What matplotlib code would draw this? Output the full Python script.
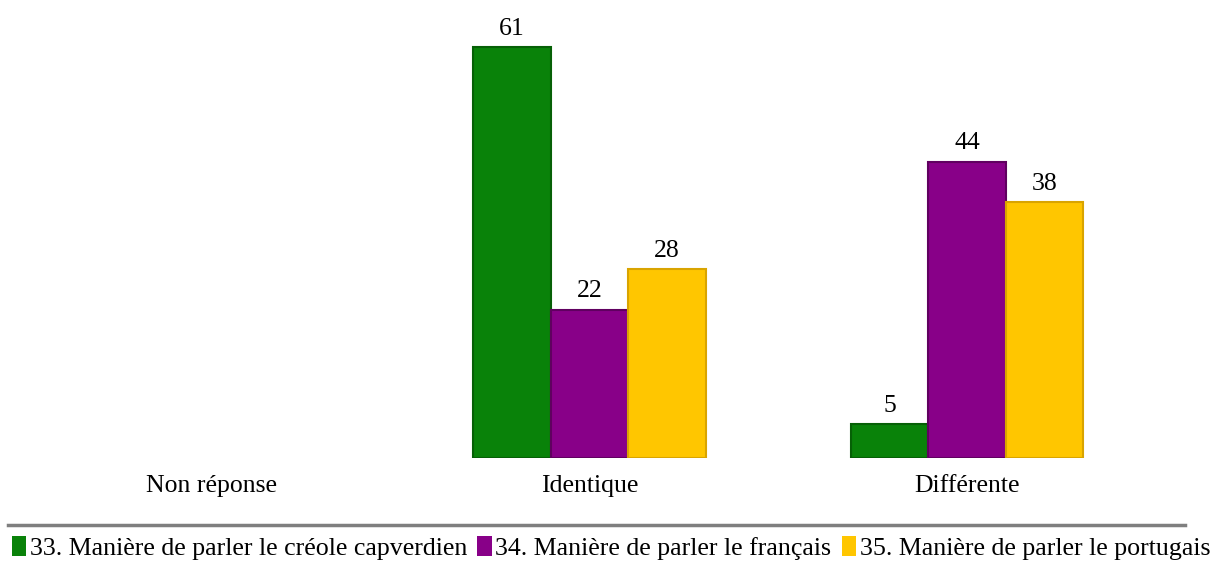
import matplotlib
matplotlib.use("Agg")
import matplotlib.pyplot as plt
from matplotlib.lines import Line2D
from matplotlib.patches import Patch
import numpy as np

categories = ["Non réponse", "Identique", "Différente"]
series_names = [
    "33. Manière de parler le créole capverdien",
    "34. Manière de parler le français",
    "35. Manière de parler le portugais",
]
creole = [0, 61, 5]
francais = [0, 22, 44]
portugais = [0, 28, 38]
colors = ["#098209", "#880088", "#FFC600"]
edge_colors = ["#066006", "#600060", "#D9A400"]

plt.rcParams["font.family"] = ["Liberation Serif", "DejaVu Serif"]

fig = plt.figure(figsize=(12.16, 5.65), dpi=100)
ax = fig.add_axes([23 / 1216, 107 / 565, 1133 / 1216, 438 / 565])

x = np.arange(len(categories))
width = 0.205
offsets = [-width, 0, width]
all_series = [creole, francais, portugais]
for vals, off, c, ec, name in zip(all_series, offsets, colors, edge_colors, series_names):
    lws = [1.5 if v > 0 else 0 for v in vals]
    bars = ax.bar(x + off, vals, width, color=c, edgecolor=ec, linewidth=lws, label=name)
    for b, v in zip(bars, vals):
        if v > 0:
            ax.text(b.get_x() + b.get_width() / 2, v + 1.1, str(v), ha="center", va="bottom",
                    fontsize=18.5)

ax.set_xlim(-0.5, 2.5)
ax.set_ylim(0, 65)
ax.set_xticks(x)
ax.set_xticklabels(categories, fontsize=18.5)
ax.tick_params(axis="x", length=0, pad=12)
ax.set_yticks([])
for s in ax.spines.values():
    s.set_visible(False)

fig.add_artist(Line2D([8 / 1216, 1185 / 1216], [40 / 565, 40 / 565], color="#7f7f7f", linewidth=2.5))

handles = [Patch(facecolor=c, edgecolor="none") for c in colors]
fig.legend(handles, series_names, loc="center", bbox_to_anchor=(611 / 1216, 17 / 565), ncol=3,
           frameon=False, fontsize=18.6, handlelength=0.55, handleheight=0.8, handletextpad=0.15,
           columnspacing=0.4, borderaxespad=0)

fig.savefig("out.png", dpi=100)
